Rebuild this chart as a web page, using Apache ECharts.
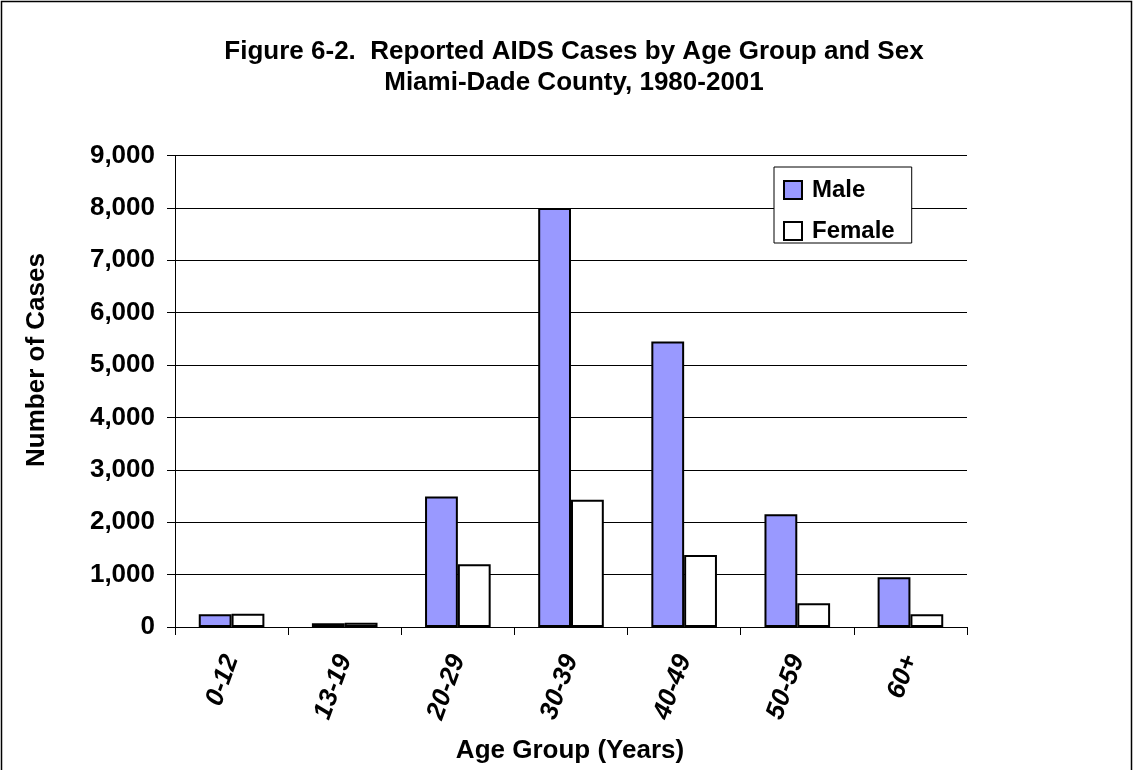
<!DOCTYPE html>
<html>
<head>
<meta charset="utf-8">
<script src="https://cdn.jsdelivr.net/npm/echarts@6/dist/echarts.min.js"></script>
<style>
html,body{margin:0;padding:0;background:#fff;}
#chart{width:1135px;height:770px;}
</style>
</head>
<body>
<div id="chart"></div>
<script>
var categories = ['0-12', '13-19', '20-29', '30-39', '40-49', '50-59', '60+'];
var maleValues = [242, 70, 2490, 8000, 5450, 2150, 948];
var femaleValues = [254, 83, 1200, 2430, 1375, 452, 242];
var yTicks = [0, 1000, 2000, 3000, 4000, 5000, 6000, 7000, 8000, 9000];

var FONT = '"Liberation Sans", Arial, sans-serif';
var chart = echarts.init(document.getElementById('chart'));
chart.setOption({
  animation: false,
  backgroundColor: '#fff',
  title: {
    text: 'Figure 6-2.  Reported AIDS Cases by Age Group and Sex\nMiami-Dade County, 1980-2001',
    left: 569, top: 31, textAlign: 'center',
    textStyle: { fontFamily: FONT, fontWeight: 'bold', fontSize: 26, lineHeight: 31, color: '#000' }
  },
  legend: {
    orient: 'vertical',
    left: 774, top: 167,
    data: ['Male', 'Female'],
    itemWidth: 18, itemHeight: 18, itemGap: 17,
    padding: [11, 17, 0, 9],
    borderColor: '#000', borderWidth: 1, borderRadius: 0,
    backgroundColor: '#fff',
    icon: 'rect',
    textStyle: { fontFamily: FONT, fontWeight: 'bold', fontSize: 24, color: '#000', padding: [0, 0, 0, 5] }
  },
  grid: { left: 175, right: 168, top: 155.5, bottom: 143, containLabel: false },
  xAxis: {
    type: 'category',
    data: categories,
    axisLine: { lineStyle: { color: '#000', width: 1 } },
    axisTick: { show: true, length: 8, inside: false, alignWithLabel: false, lineStyle: { color: '#000' } },
    axisLabel: { rotate: 70, margin: 29, fontFamily: FONT, fontWeight: 'bold', fontStyle: 'italic', fontSize: 26, color: '#000', interval: 0 },
    splitLine: { show: false }
  },
  yAxis: {
    type: 'value',
    min: 0, max: 9000, interval: 1000,
    axisLine: { show: true, lineStyle: { color: '#000', width: 1 } },
    axisTick: { show: true, length: 8, inside: false, lineStyle: { color: '#000' } },
    axisLabel: {
      margin: 20, fontFamily: FONT, fontWeight: 'bold', fontSize: 26, color: '#000',
      formatter: function (v) { return yTicks.indexOf(v) >= 0 ? v.toLocaleString('en-US') : ''; }
    },
    splitLine: { show: true, lineStyle: { color: '#000', width: 1 } }
  },
  series: [
    {
      name: 'Male', type: 'bar', data: maleValues,
      barGap: '0%', barCategoryGap: '42%',
      itemStyle: { color: '#9999FF', borderColor: '#000', borderWidth: 2 }
    },
    {
      name: 'Female', type: 'bar', data: femaleValues,
      barGap: '0%', barCategoryGap: '42%',
      itemStyle: { color: '#FFFFFF', borderColor: '#000', borderWidth: 2 }
    }
  ],
  graphic: [
    {
      type: 'rect', silent: true, z: -10,
      shape: { x: 1.5, y: 1.5, width: 1130, height: 800 },
      style: { fill: 'none', stroke: '#000', lineWidth: 1.5 }
    },
    {
      type: 'text', x: 37, y: 360, rotation: Math.PI / 2,
      style: { text: 'Number of Cases', fontFamily: FONT, fontWeight: 'bold', fontSize: 26, fill: '#000', align: 'center', verticalAlign: 'middle' }
    },
    {
      type: 'text', x: 570, y: 751,
      style: { text: 'Age Group (Years)', fontFamily: FONT, fontWeight: 'bold', fontSize: 26, fill: '#000', align: 'center', verticalAlign: 'middle' }
    }
  ]
});
</script>
</body>
</html>
